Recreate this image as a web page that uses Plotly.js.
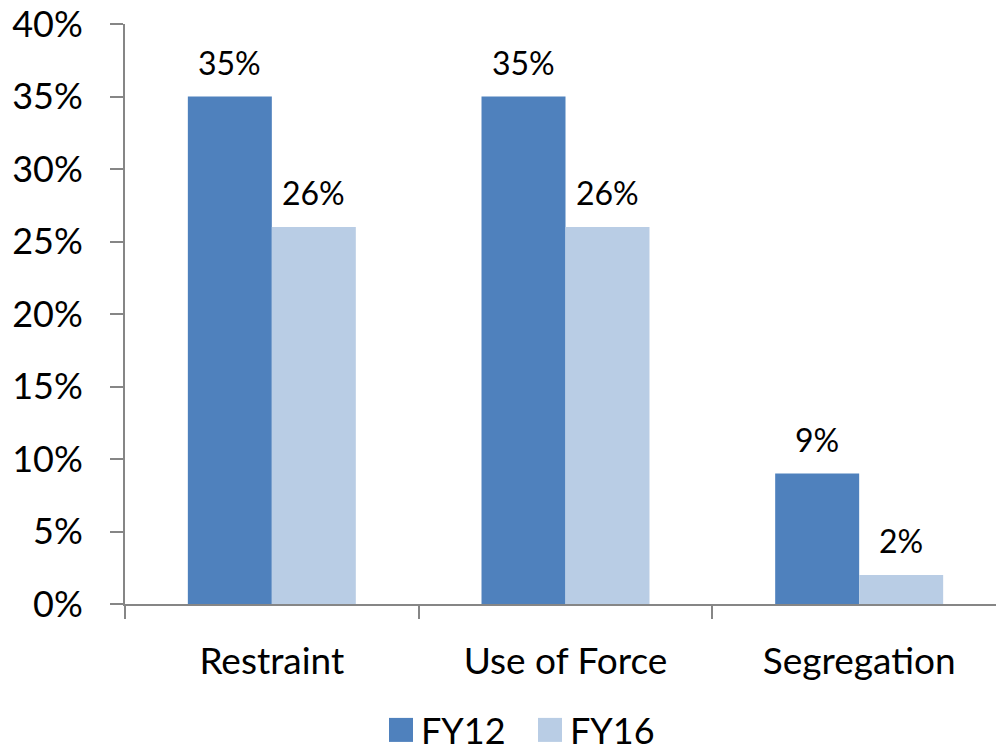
<!DOCTYPE html>
<html>
<head>
<meta charset="utf-8">
<script src="https://cdn.plot.ly/plotly-3.0.1.min.js"></script>
<style>
  html, body { margin: 0; padding: 0; overflow: hidden; background: #ffffff; }
  #chart { width: 1010px; height: 749px; }
</style>
</head>
<body>
<div id="chart"></div>
<script>
// Share of incidents by type, fiscal year 2012 vs 2016
const categories = ['Restraint', 'Use of Force', 'Segregation'];
const seriesNames = ['FY12', 'FY16'];
const fy12 = [0.35, 0.35, 0.09];
const fy16 = [0.26, 0.26, 0.02];
const yTicks = [0, 0.05, 0.10, 0.15, 0.20, 0.25, 0.30, 0.35, 0.40];

const seriesValues = [fy12, fy16];
const seriesColors = ['#4F81BD', '#B9CDE5'];
const FONT = 'Lato, "Open Sans", sans-serif';

const W = 1010, H = 749;
const margin = { l: 125, r: 4, t: 24, b: 145 };
const bargap = 0.428;

const traces = seriesNames.map((name, i) => ({
  type: 'bar',
  name: name,
  x: categories,
  y: seriesValues[i],
  marker: { color: seriesColors[i], line: { width: 0 } },
  hoverinfo: 'skip'
}));

// value labels sit above each bar, offset to the bar's slot in its group
const plotW = W - margin.l - margin.r;
const barW = plotW / categories.length * (1 - bargap) / seriesNames.length;
const annotations = [];
seriesNames.forEach((name, i) => {
  categories.forEach((cat, j) => {
    annotations.push({
      x: cat, y: seriesValues[i][j], xref: 'x', yref: 'y',
      text: Math.round(seriesValues[i][j] * 100) + '%',
      showarrow: false, yanchor: 'bottom',
      xshift: (i - (seriesNames.length - 1) / 2) * barW,
      yshift: 13,
      font: { family: FONT, size: 32, color: '#000000' }
    });
  });
});

const layout = {
  width: W, height: H,
  margin: margin,
  paper_bgcolor: '#ffffff', plot_bgcolor: '#ffffff',
  font: { family: FONT, color: '#000000' },
  barmode: 'group', bargap: bargap, bargroupgap: 0,
  showlegend: true,
  legend: {
    orientation: 'h', xref: 'container', yref: 'container',
    x: 381 / W, xanchor: 'left', y: 1 - 730 / H, yanchor: 'middle',
    entrywidth: 104, entrywidthmode: 'pixels',
    font: { family: FONT, size: 36, color: '#000000' },
    bgcolor: 'rgba(0,0,0,0)'
  },
  xaxis: {
    type: 'category', range: [-0.5, 2.5], fixedrange: true,
    showline: true, linecolor: '#868686', linewidth: 2,
    ticks: 'outside', tickson: 'boundaries', ticklen: 13, tickcolor: '#868686', tickwidth: 2,
    ticklabelstandoff: 24,
    tickfont: { family: FONT, size: 37, color: '#000000' },
    showgrid: false, zeroline: false
  },
  yaxis: {
    range: [0, 0.4], fixedrange: true,
    tickvals: yTicks, tickformat: '.0%',
    showline: true, linecolor: '#868686', linewidth: 2,
    ticks: 'outside', ticklen: 13, tickcolor: '#868686', tickwidth: 2,
    ticklabelstandoff: 20,
    tickfont: { family: FONT, size: 36, color: '#000000' },
    showgrid: false, zeroline: false
  },
  annotations: annotations
};

Plotly.newPlot('chart', traces, layout, { staticPlot: true, displayModeBar: false }).then(() => {
  // larger square legend swatches
  document.querySelectorAll('.legend .legendpoints path').forEach(p => {
    p.setAttribute('d', 'M12,12H-12V-12H12Z');
  });
});
</script>
</body>
</html>
